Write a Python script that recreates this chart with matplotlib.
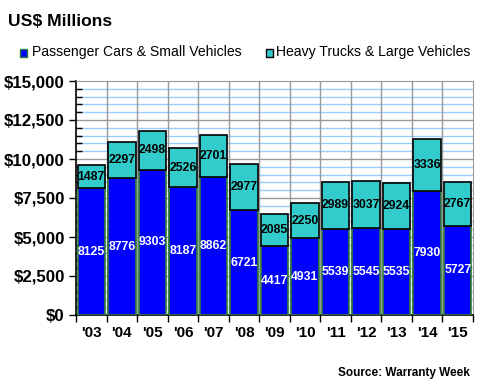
import numpy as np
import matplotlib.pyplot as plt
from matplotlib.ticker import MultipleLocator, FuncFormatter
from matplotlib.patches import Rectangle

plt.rcParams['font.family'] = ['Liberation Sans', 'DejaVu Sans']

years = ["'03", "'04", "'05", "'06", "'07", "'08", "'09", "'10", "'11", "'12", "'13", "'14", "'15"]
cars = [8125, 8776, 9303, 8187, 8862, 6721, 4417, 4931, 5539, 5545, 5535, 7930, 5727]
trucks = [1487, 2297, 2498, 2526, 2701, 2977, 2085, 2250, 2989, 3037, 2924, 3336, 2767]

blue = '#0000FF'
teal = '#33CCCC'

fig = plt.figure(figsize=(4.8, 3.9), dpi=100)
ax = fig.add_axes([76 / 480, 1 - 315 / 390, 397 / 480, 234 / 390])

x = np.arange(len(years))
ax.bar(x, cars, width=0.9, color=blue, edgecolor='#2E7D32', linewidth=1.2, zorder=3)
ax.bar(x, trucks, bottom=cars, width=0.9, color=teal, edgecolor='black', linewidth=1.2, zorder=3)

for i in range(len(years)):
    ax.text(x[i], cars[i] / 2, str(cars[i]), ha='center', va='center', color='white',
            fontsize=8.8, fontweight='bold', zorder=4)
    ax.text(x[i], cars[i] + trucks[i] / 2, str(trucks[i]), ha='center', va='center',
            color='black', fontsize=8.8, fontweight='bold', zorder=4)

ax.set_xlim(-0.5, len(years) - 0.5)
ax.set_ylim(0, 15000)

# grid: light blue every 500, gray every 2500, gray category boundaries
for v in range(500, 15000, 500):
    if v % 2500:
        ax.axhline(v, color='#99CCFF', linewidth=1, zorder=1)
    else:
        ax.axhline(v, color='#999999', linewidth=1, zorder=1)
for b in np.arange(0.5, len(years) - 0.5, 1):
    ax.axvline(b, color='#999999', linewidth=1, zorder=1)

ax.yaxis.set_major_locator(MultipleLocator(2500))
ax.yaxis.set_minor_locator(MultipleLocator(500))
ax.yaxis.set_major_formatter(FuncFormatter(lambda v, p: '${:,.0f}'.format(v)))
ax.tick_params(axis='y', which='major', direction='out', length=5, width=1, labelsize=12.2, pad=3)
ax.tick_params(axis='y', which='minor', direction='in', length=4, width=1)
for lab in ax.get_yticklabels():
    lab.set_fontweight('bold')

ax.set_xticks(x)
ax.set_xticklabels(years, fontsize=11, fontweight='bold')
ax.set_xticks(np.arange(-0.5, len(years), 1), minor=True)
ax.tick_params(axis='x', which='major', length=0, pad=8)
ax.tick_params(axis='x', which='minor', direction='out', length=5, width=1)

for s in ['top', 'right']:
    ax.spines[s].set_color('#999999')
for s in ['left', 'bottom']:
    ax.spines[s].set_color('black')
    ax.spines[s].set_linewidth(1.2)

fig.text(8 / 480, 1 - 21 / 390, 'US$ Millions', fontsize=12.6, fontweight='bold', va='center')

# legend
fig.patches.append(Rectangle((20 / 480, 1 - 57 / 390), 7 / 480, 8 / 390, transform=fig.transFigure,
                             facecolor=blue, edgecolor='#2E7D32', linewidth=1))
fig.text(32 / 480, 1 - 52 / 390, 'Passenger Cars & Small Vehicles', fontsize=10.1, va='center')
fig.patches.append(Rectangle((266 / 480, 1 - 57 / 390), 7 / 480, 8 / 390, transform=fig.transFigure,
                             facecolor=teal, edgecolor='black', linewidth=1))
fig.text(276 / 480, 1 - 52 / 390, 'Heavy Trucks & Large Vehicles', fontsize=10.1, va='center')

fig.text(470 / 480, 1 - 373 / 390, 'Source: Warranty Week', fontsize=8.5, fontweight='bold',
         ha='right', va='center')

fig.savefig('out.png', dpi=100)
